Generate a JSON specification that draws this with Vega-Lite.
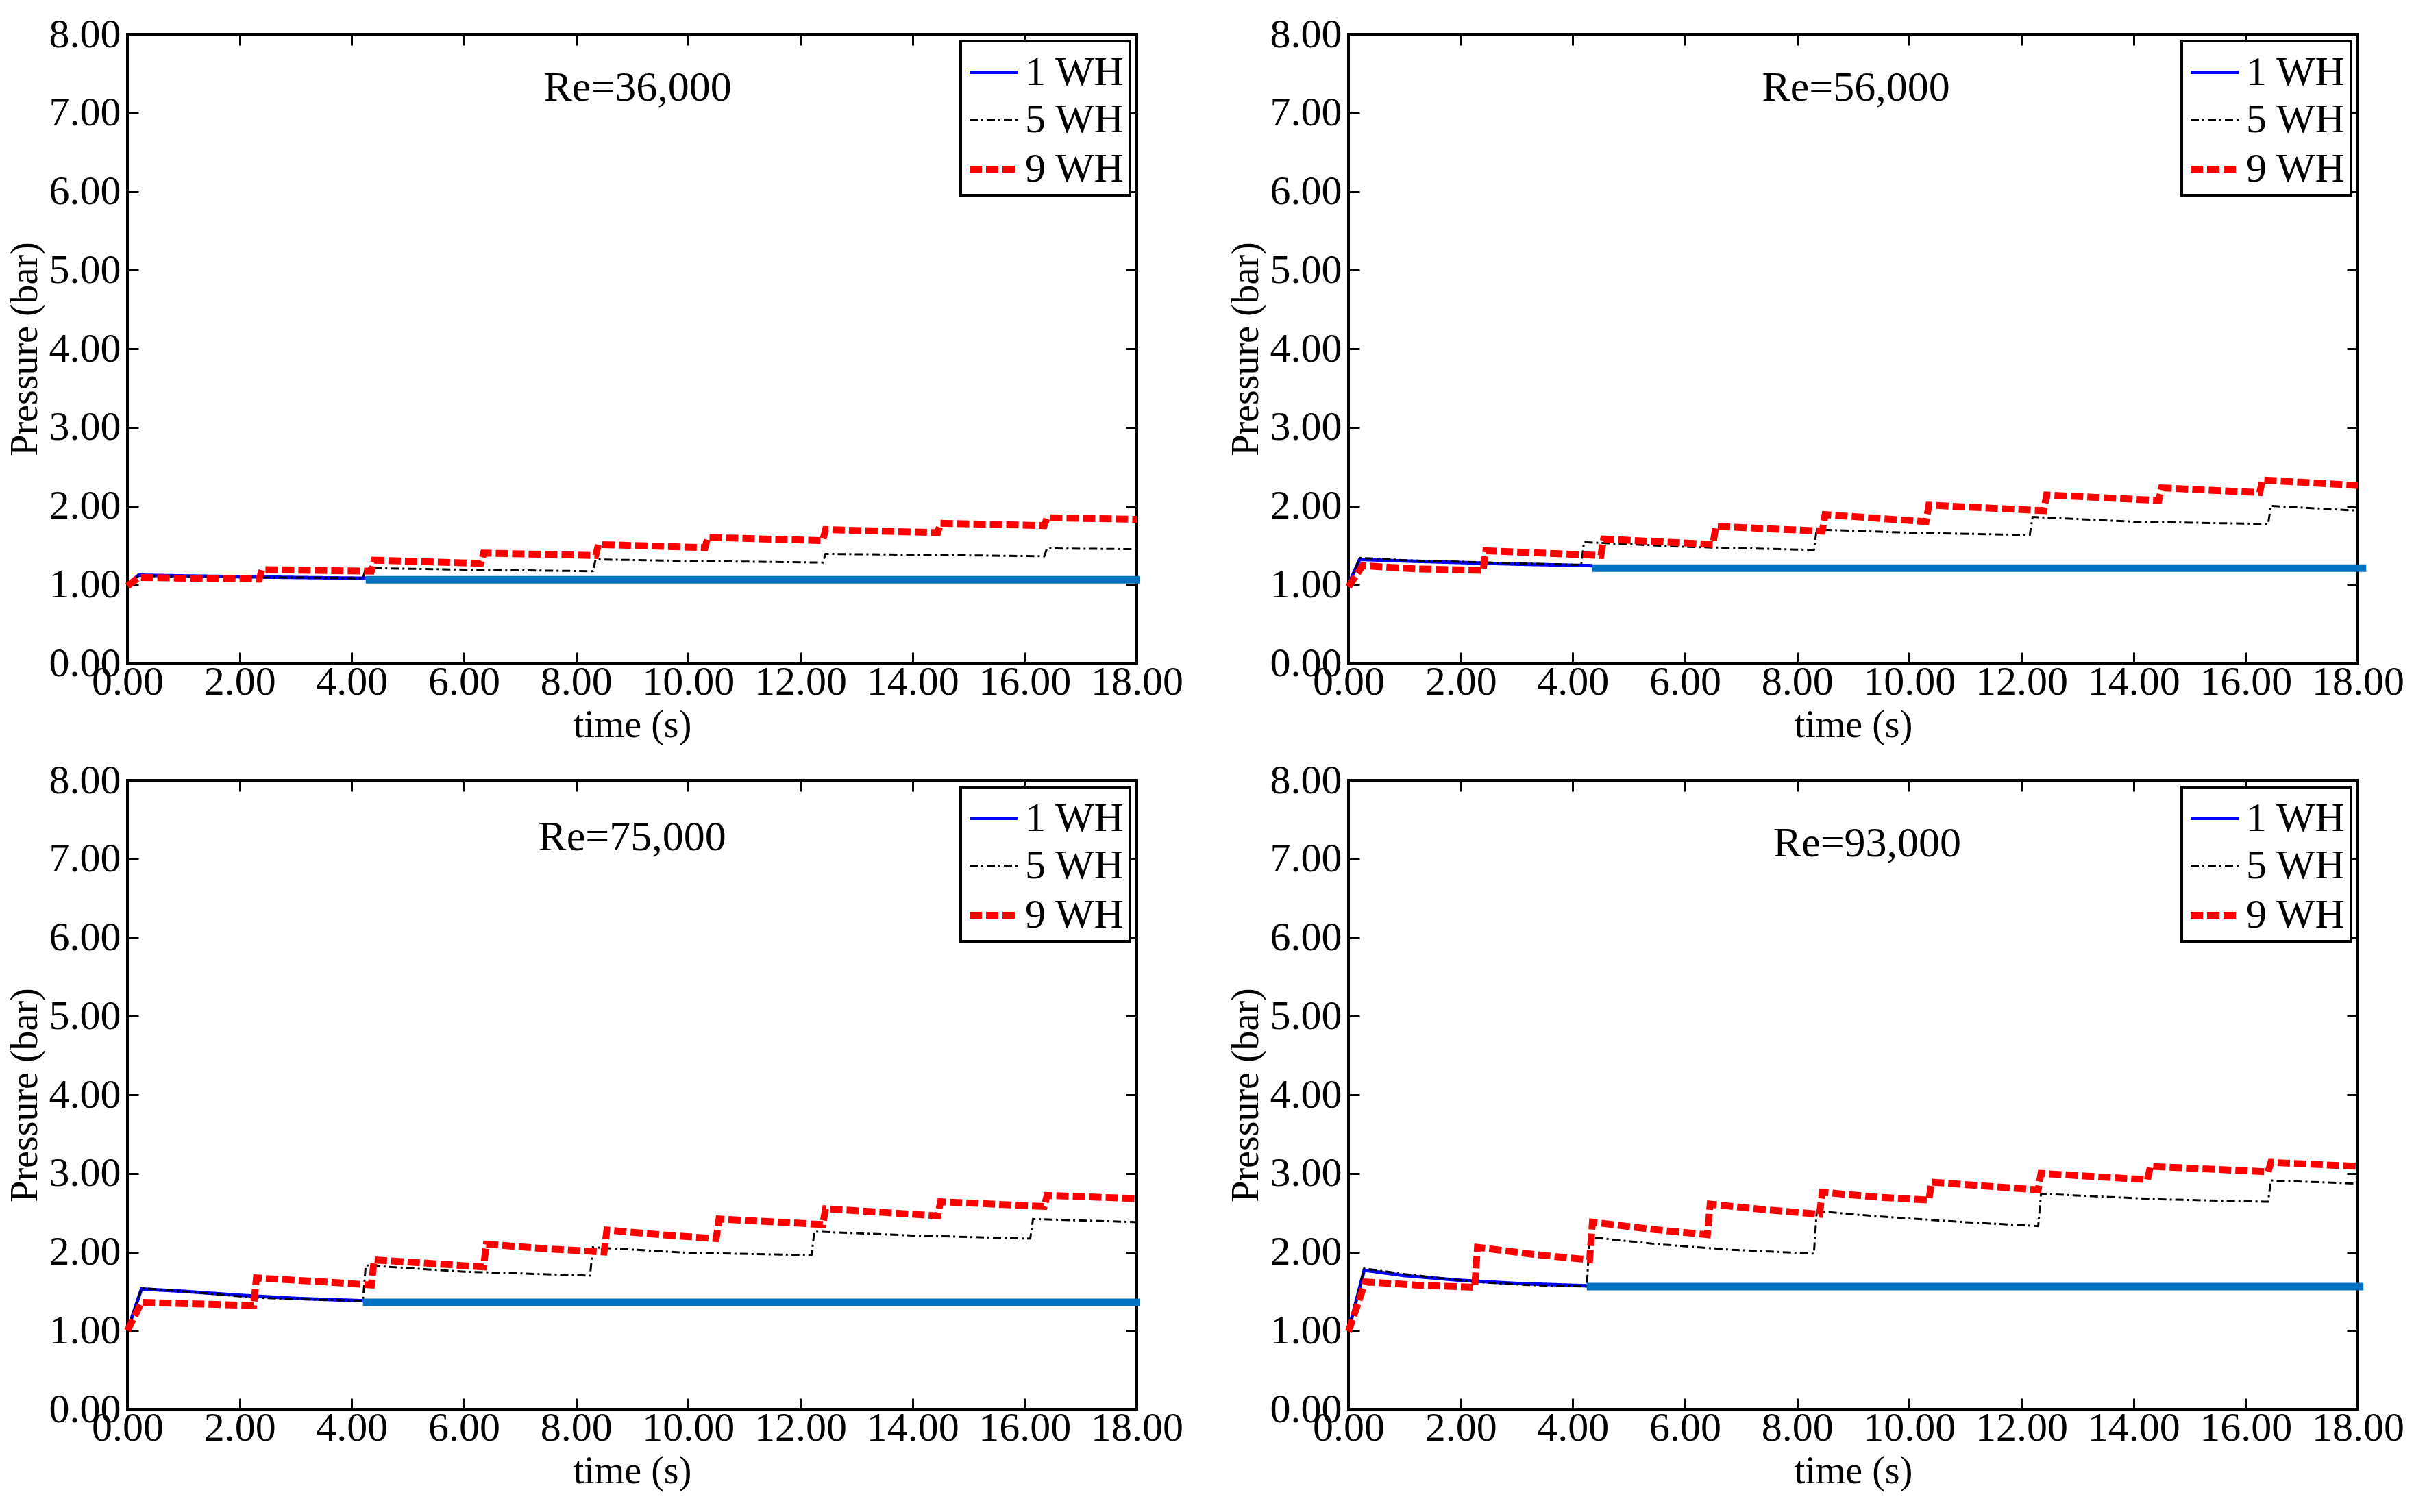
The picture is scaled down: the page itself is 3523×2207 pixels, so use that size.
{
  "$schema": "https://vega.github.io/schema/vega-lite/v6.json",
  "padding": {"left": 6, "top": 18, "right": 0, "bottom": 0},
  "background": "white",
  "datasets": {
    "pressure": [
      {"panel": "Re=36,000", "series": "1 WH", "t": 0, "p": 1.0},
      {"panel": "Re=36,000", "series": "1 WH", "t": 0.2, "p": 1.12},
      {"panel": "Re=36,000", "series": "1 WH", "t": 1, "p": 1.11},
      {"panel": "Re=36,000", "series": "1 WH", "t": 2, "p": 1.1},
      {"panel": "Re=36,000", "series": "1 WH", "t": 3, "p": 1.09},
      {"panel": "Re=36,000", "series": "1 WH", "t": 4.25, "p": 1.08},
      {"panel": "Re=36,000", "series": "5 WH", "t": 0, "p": 1.0},
      {"panel": "Re=36,000", "series": "5 WH", "t": 0.2, "p": 1.11},
      {"panel": "Re=36,000", "series": "5 WH", "t": 1, "p": 1.1},
      {"panel": "Re=36,000", "series": "5 WH", "t": 2, "p": 1.09},
      {"panel": "Re=36,000", "series": "5 WH", "t": 3, "p": 1.09},
      {"panel": "Re=36,000", "series": "5 WH", "t": 4.2, "p": 1.08},
      {"panel": "Re=36,000", "series": "5 WH", "t": 4.25, "p": 1.21},
      {"panel": "Re=36,000", "series": "5 WH", "t": 6, "p": 1.19},
      {"panel": "Re=36,000", "series": "5 WH", "t": 8.3, "p": 1.17},
      {"panel": "Re=36,000", "series": "5 WH", "t": 8.35, "p": 1.32},
      {"panel": "Re=36,000", "series": "5 WH", "t": 10, "p": 1.3},
      {"panel": "Re=36,000", "series": "5 WH", "t": 12.4, "p": 1.28},
      {"panel": "Re=36,000", "series": "5 WH", "t": 12.45, "p": 1.39},
      {"panel": "Re=36,000", "series": "5 WH", "t": 14, "p": 1.38},
      {"panel": "Re=36,000", "series": "5 WH", "t": 16.35, "p": 1.36},
      {"panel": "Re=36,000", "series": "5 WH", "t": 16.4, "p": 1.46},
      {"panel": "Re=36,000", "series": "5 WH", "t": 18, "p": 1.45},
      {"panel": "Re=36,000", "series": "9 WH", "t": 0, "p": 0.98},
      {"panel": "Re=36,000", "series": "9 WH", "t": 0.2, "p": 1.09},
      {"panel": "Re=36,000", "series": "9 WH", "t": 1.2, "p": 1.08},
      {"panel": "Re=36,000", "series": "9 WH", "t": 2.35, "p": 1.07},
      {"panel": "Re=36,000", "series": "9 WH", "t": 2.4, "p": 1.19},
      {"panel": "Re=36,000", "series": "9 WH", "t": 4.35, "p": 1.17},
      {"panel": "Re=36,000", "series": "9 WH", "t": 4.4, "p": 1.31},
      {"panel": "Re=36,000", "series": "9 WH", "t": 6.3, "p": 1.27},
      {"panel": "Re=36,000", "series": "9 WH", "t": 6.35, "p": 1.4},
      {"panel": "Re=36,000", "series": "9 WH", "t": 8.35, "p": 1.37},
      {"panel": "Re=36,000", "series": "9 WH", "t": 8.4, "p": 1.51},
      {"panel": "Re=36,000", "series": "9 WH", "t": 10.3, "p": 1.47},
      {"panel": "Re=36,000", "series": "9 WH", "t": 10.35, "p": 1.6},
      {"panel": "Re=36,000", "series": "9 WH", "t": 12.4, "p": 1.56},
      {"panel": "Re=36,000", "series": "9 WH", "t": 12.45, "p": 1.7},
      {"panel": "Re=36,000", "series": "9 WH", "t": 14.45, "p": 1.66},
      {"panel": "Re=36,000", "series": "9 WH", "t": 14.5, "p": 1.78},
      {"panel": "Re=36,000", "series": "9 WH", "t": 16.35, "p": 1.75},
      {"panel": "Re=36,000", "series": "9 WH", "t": 16.4, "p": 1.85},
      {"panel": "Re=36,000", "series": "9 WH", "t": 18, "p": 1.83},

      {"panel": "Re=56,000", "series": "1 WH", "t": 0, "p": 1.0},
      {"panel": "Re=56,000", "series": "1 WH", "t": 0.2, "p": 1.32},
      {"panel": "Re=56,000", "series": "1 WH", "t": 1, "p": 1.3},
      {"panel": "Re=56,000", "series": "1 WH", "t": 2, "p": 1.28},
      {"panel": "Re=56,000", "series": "1 WH", "t": 3, "p": 1.26},
      {"panel": "Re=56,000", "series": "1 WH", "t": 4.35, "p": 1.24},
      {"panel": "Re=56,000", "series": "5 WH", "t": 0, "p": 1.0},
      {"panel": "Re=56,000", "series": "5 WH", "t": 0.2, "p": 1.34},
      {"panel": "Re=56,000", "series": "5 WH", "t": 1, "p": 1.31},
      {"panel": "Re=56,000", "series": "5 WH", "t": 2, "p": 1.29},
      {"panel": "Re=56,000", "series": "5 WH", "t": 3, "p": 1.27},
      {"panel": "Re=56,000", "series": "5 WH", "t": 4.15, "p": 1.25},
      {"panel": "Re=56,000", "series": "5 WH", "t": 4.2, "p": 1.54},
      {"panel": "Re=56,000", "series": "5 WH", "t": 6, "p": 1.48},
      {"panel": "Re=56,000", "series": "5 WH", "t": 8.3, "p": 1.44},
      {"panel": "Re=56,000", "series": "5 WH", "t": 8.35, "p": 1.7},
      {"panel": "Re=56,000", "series": "5 WH", "t": 10, "p": 1.66},
      {"panel": "Re=56,000", "series": "5 WH", "t": 12.15, "p": 1.63},
      {"panel": "Re=56,000", "series": "5 WH", "t": 12.2, "p": 1.86},
      {"panel": "Re=56,000", "series": "5 WH", "t": 14, "p": 1.8},
      {"panel": "Re=56,000", "series": "5 WH", "t": 16.4, "p": 1.77},
      {"panel": "Re=56,000", "series": "5 WH", "t": 16.45, "p": 2.0},
      {"panel": "Re=56,000", "series": "5 WH", "t": 18, "p": 1.94},
      {"panel": "Re=56,000", "series": "9 WH", "t": 0, "p": 0.97},
      {"panel": "Re=56,000", "series": "9 WH", "t": 0.25, "p": 1.24},
      {"panel": "Re=56,000", "series": "9 WH", "t": 1.2, "p": 1.2},
      {"panel": "Re=56,000", "series": "9 WH", "t": 2.4, "p": 1.18},
      {"panel": "Re=56,000", "series": "9 WH", "t": 2.45, "p": 1.43},
      {"panel": "Re=56,000", "series": "9 WH", "t": 4.5, "p": 1.37},
      {"panel": "Re=56,000", "series": "9 WH", "t": 4.55, "p": 1.58},
      {"panel": "Re=56,000", "series": "9 WH", "t": 6.5, "p": 1.51},
      {"panel": "Re=56,000", "series": "9 WH", "t": 6.55, "p": 1.74},
      {"panel": "Re=56,000", "series": "9 WH", "t": 8.45, "p": 1.68},
      {"panel": "Re=56,000", "series": "9 WH", "t": 8.5, "p": 1.89},
      {"panel": "Re=56,000", "series": "9 WH", "t": 10.3, "p": 1.8},
      {"panel": "Re=56,000", "series": "9 WH", "t": 10.35, "p": 2.01},
      {"panel": "Re=56,000", "series": "9 WH", "t": 12.4, "p": 1.94},
      {"panel": "Re=56,000", "series": "9 WH", "t": 12.45, "p": 2.14},
      {"panel": "Re=56,000", "series": "9 WH", "t": 14.45, "p": 2.07},
      {"panel": "Re=56,000", "series": "9 WH", "t": 14.5, "p": 2.23},
      {"panel": "Re=56,000", "series": "9 WH", "t": 16.25, "p": 2.17},
      {"panel": "Re=56,000", "series": "9 WH", "t": 16.3, "p": 2.33},
      {"panel": "Re=56,000", "series": "9 WH", "t": 18, "p": 2.26},

      {"panel": "Re=75,000", "series": "1 WH", "t": 0, "p": 1.0},
      {"panel": "Re=75,000", "series": "1 WH", "t": 0.25, "p": 1.53},
      {"panel": "Re=75,000", "series": "1 WH", "t": 1, "p": 1.5},
      {"panel": "Re=75,000", "series": "1 WH", "t": 2, "p": 1.45},
      {"panel": "Re=75,000", "series": "1 WH", "t": 3, "p": 1.41},
      {"panel": "Re=75,000", "series": "1 WH", "t": 4.2, "p": 1.38},
      {"panel": "Re=75,000", "series": "5 WH", "t": 0, "p": 1.0},
      {"panel": "Re=75,000", "series": "5 WH", "t": 0.25, "p": 1.54},
      {"panel": "Re=75,000", "series": "5 WH", "t": 1, "p": 1.5},
      {"panel": "Re=75,000", "series": "5 WH", "t": 2.25, "p": 1.42},
      {"panel": "Re=75,000", "series": "5 WH", "t": 3, "p": 1.4},
      {"panel": "Re=75,000", "series": "5 WH", "t": 4.2, "p": 1.38},
      {"panel": "Re=75,000", "series": "5 WH", "t": 4.25, "p": 1.83},
      {"panel": "Re=75,000", "series": "5 WH", "t": 6, "p": 1.75},
      {"panel": "Re=75,000", "series": "5 WH", "t": 8.25, "p": 1.7},
      {"panel": "Re=75,000", "series": "5 WH", "t": 8.3, "p": 2.06},
      {"panel": "Re=75,000", "series": "5 WH", "t": 10, "p": 1.99},
      {"panel": "Re=75,000", "series": "5 WH", "t": 12.2, "p": 1.96},
      {"panel": "Re=75,000", "series": "5 WH", "t": 12.25, "p": 2.26},
      {"panel": "Re=75,000", "series": "5 WH", "t": 14, "p": 2.21},
      {"panel": "Re=75,000", "series": "5 WH", "t": 16.1, "p": 2.17},
      {"panel": "Re=75,000", "series": "5 WH", "t": 16.15, "p": 2.42},
      {"panel": "Re=75,000", "series": "5 WH", "t": 18, "p": 2.38},
      {"panel": "Re=75,000", "series": "9 WH", "t": 0, "p": 1.0},
      {"panel": "Re=75,000", "series": "9 WH", "t": 0.25, "p": 1.36},
      {"panel": "Re=75,000", "series": "9 WH", "t": 1.2, "p": 1.34},
      {"panel": "Re=75,000", "series": "9 WH", "t": 2.25, "p": 1.32},
      {"panel": "Re=75,000", "series": "9 WH", "t": 2.3, "p": 1.67},
      {"panel": "Re=75,000", "series": "9 WH", "t": 3.5, "p": 1.62},
      {"panel": "Re=75,000", "series": "9 WH", "t": 4.35, "p": 1.58},
      {"panel": "Re=75,000", "series": "9 WH", "t": 4.4, "p": 1.9},
      {"panel": "Re=75,000", "series": "9 WH", "t": 5.5, "p": 1.85},
      {"panel": "Re=75,000", "series": "9 WH", "t": 6.35, "p": 1.81},
      {"panel": "Re=75,000", "series": "9 WH", "t": 6.4, "p": 2.1},
      {"panel": "Re=75,000", "series": "9 WH", "t": 7.5, "p": 2.04},
      {"panel": "Re=75,000", "series": "9 WH", "t": 8.5, "p": 2.0},
      {"panel": "Re=75,000", "series": "9 WH", "t": 8.55, "p": 2.28},
      {"panel": "Re=75,000", "series": "9 WH", "t": 9.5, "p": 2.22},
      {"panel": "Re=75,000", "series": "9 WH", "t": 10.5, "p": 2.17},
      {"panel": "Re=75,000", "series": "9 WH", "t": 10.55, "p": 2.42},
      {"panel": "Re=75,000", "series": "9 WH", "t": 12.4, "p": 2.35},
      {"panel": "Re=75,000", "series": "9 WH", "t": 12.45, "p": 2.55},
      {"panel": "Re=75,000", "series": "9 WH", "t": 14.45, "p": 2.46},
      {"panel": "Re=75,000", "series": "9 WH", "t": 14.5, "p": 2.64},
      {"panel": "Re=75,000", "series": "9 WH", "t": 16.35, "p": 2.58},
      {"panel": "Re=75,000", "series": "9 WH", "t": 16.4, "p": 2.72},
      {"panel": "Re=75,000", "series": "9 WH", "t": 18, "p": 2.68},

      {"panel": "Re=93,000", "series": "1 WH", "t": 0, "p": 1.0},
      {"panel": "Re=93,000", "series": "1 WH", "t": 0.28, "p": 1.77},
      {"panel": "Re=93,000", "series": "1 WH", "t": 1, "p": 1.7},
      {"panel": "Re=93,000", "series": "1 WH", "t": 2, "p": 1.64},
      {"panel": "Re=93,000", "series": "1 WH", "t": 3, "p": 1.6},
      {"panel": "Re=93,000", "series": "1 WH", "t": 4.25, "p": 1.57},
      {"panel": "Re=93,000", "series": "5 WH", "t": 0, "p": 1.0},
      {"panel": "Re=93,000", "series": "5 WH", "t": 0.28, "p": 1.79},
      {"panel": "Re=93,000", "series": "5 WH", "t": 1, "p": 1.72},
      {"panel": "Re=93,000", "series": "5 WH", "t": 2.25, "p": 1.62},
      {"panel": "Re=93,000", "series": "5 WH", "t": 3.2, "p": 1.58},
      {"panel": "Re=93,000", "series": "5 WH", "t": 4.25, "p": 1.56},
      {"panel": "Re=93,000", "series": "5 WH", "t": 4.3, "p": 2.19},
      {"panel": "Re=93,000", "series": "5 WH", "t": 5.5, "p": 2.1},
      {"panel": "Re=93,000", "series": "5 WH", "t": 6.8, "p": 2.03},
      {"panel": "Re=93,000", "series": "5 WH", "t": 8.3, "p": 1.98},
      {"panel": "Re=93,000", "series": "5 WH", "t": 8.35, "p": 2.52},
      {"panel": "Re=93,000", "series": "5 WH", "t": 9.5, "p": 2.45},
      {"panel": "Re=93,000", "series": "5 WH", "t": 11, "p": 2.38},
      {"panel": "Re=93,000", "series": "5 WH", "t": 12.3, "p": 2.33},
      {"panel": "Re=93,000", "series": "5 WH", "t": 12.35, "p": 2.74},
      {"panel": "Re=93,000", "series": "5 WH", "t": 14.5, "p": 2.67},
      {"panel": "Re=93,000", "series": "5 WH", "t": 16.4, "p": 2.64},
      {"panel": "Re=93,000", "series": "5 WH", "t": 16.45, "p": 2.91},
      {"panel": "Re=93,000", "series": "5 WH", "t": 18, "p": 2.87},
      {"panel": "Re=93,000", "series": "9 WH", "t": 0, "p": 0.99},
      {"panel": "Re=93,000", "series": "9 WH", "t": 0.3, "p": 1.62},
      {"panel": "Re=93,000", "series": "9 WH", "t": 1.2, "p": 1.58},
      {"panel": "Re=93,000", "series": "9 WH", "t": 2.25, "p": 1.55},
      {"panel": "Re=93,000", "series": "9 WH", "t": 2.3, "p": 2.06},
      {"panel": "Re=93,000", "series": "9 WH", "t": 3.3, "p": 1.97},
      {"panel": "Re=93,000", "series": "9 WH", "t": 4.3, "p": 1.9},
      {"panel": "Re=93,000", "series": "9 WH", "t": 4.35, "p": 2.38},
      {"panel": "Re=93,000", "series": "9 WH", "t": 5.4, "p": 2.29},
      {"panel": "Re=93,000", "series": "9 WH", "t": 6.4, "p": 2.22},
      {"panel": "Re=93,000", "series": "9 WH", "t": 6.45, "p": 2.61},
      {"panel": "Re=93,000", "series": "9 WH", "t": 7.4, "p": 2.54},
      {"panel": "Re=93,000", "series": "9 WH", "t": 8.4, "p": 2.48},
      {"panel": "Re=93,000", "series": "9 WH", "t": 8.45, "p": 2.76},
      {"panel": "Re=93,000", "series": "9 WH", "t": 9.4, "p": 2.7},
      {"panel": "Re=93,000", "series": "9 WH", "t": 10.35, "p": 2.66},
      {"panel": "Re=93,000", "series": "9 WH", "t": 10.4, "p": 2.89},
      {"panel": "Re=93,000", "series": "9 WH", "t": 12.3, "p": 2.79},
      {"panel": "Re=93,000", "series": "9 WH", "t": 12.35, "p": 3.0},
      {"panel": "Re=93,000", "series": "9 WH", "t": 14.25, "p": 2.92},
      {"panel": "Re=93,000", "series": "9 WH", "t": 14.3, "p": 3.09},
      {"panel": "Re=93,000", "series": "9 WH", "t": 16.4, "p": 3.02},
      {"panel": "Re=93,000", "series": "9 WH", "t": 16.45, "p": 3.14},
      {"panel": "Re=93,000", "series": "9 WH", "t": 18, "p": 3.09}
    ],
    "steady": [
      {"panel": "Re=36,000", "t": 4.25, "p": 1.06},
      {"panel": "Re=36,000", "t": 18.05, "p": 1.06},
      {"panel": "Re=56,000", "t": 4.35, "p": 1.21},
      {"panel": "Re=56,000", "t": 18.15, "p": 1.21},
      {"panel": "Re=75,000", "t": 4.2, "p": 1.36},
      {"panel": "Re=75,000", "t": 18.05, "p": 1.36},
      {"panel": "Re=93,000", "t": 4.25, "p": 1.56},
      {"panel": "Re=93,000", "t": 18.1, "p": 1.56}
    ],
    "notes": [
      {"panel": "Re=36,000", "t": 9.1, "p": 7.32},
      {"panel": "Re=56,000", "t": 9.05, "p": 7.32},
      {"panel": "Re=75,000", "t": 9.0, "p": 7.28},
      {"panel": "Re=93,000", "t": 9.25, "p": 7.2}
    ]
  },
  "columns": 2,
  "spacing": {"row": 19, "column": 59},
  "resolve": {
    "scale": {"color": "independent", "strokeDash": "independent", "strokeWidth": "independent"}
  },
  "concat": [
    {
      "width": 1473,
      "height": 918,
      "layer": [
        {
          "data": {"name": "pressure"},
          "transform": [{"filter": "datum.panel == 'Re=36,000'"}],
          "mark": {"type": "line"},
          "encoding": {
            "x": {"field": "t", "type": "quantitative", "title": "time (s)", "scale": {"domain": [0, 18], "nice": false}, "axis": {"values": [0, 2, 4, 6, 8, 10, 12, 14, 16, 18]}},
            "y": {"field": "p", "type": "quantitative", "title": "Pressure (bar)", "scale": {"domain": [0, 8], "nice": false}, "axis": {"values": [0, 1, 2, 3, 4, 5, 6, 7, 8]}},
            "color": {"field": "series", "type": "nominal", "scale": {"domain": ["1 WH", "5 WH", "9 WH"], "range": ["#0000FF", "#000000", "#FF0000"]}, "legend": {"title": null}},
            "strokeDash": {"field": "series", "type": "nominal", "scale": {"domain": ["1 WH", "5 WH", "9 WH"], "range": [[1, 0], [12, 5, 3, 5], [18, 6]]}, "legend": {"title": null}},
            "strokeWidth": {"field": "series", "type": "nominal", "scale": {"type": "ordinal", "domain": ["1 WH", "5 WH", "9 WH"], "range": [5, 3, 10]}, "legend": null}
          }
        },
        {
          "data": {"name": "steady"},
          "transform": [{"filter": "datum.panel == 'Re=36,000'"}],
          "mark": {"type": "line", "color": "#0070C0", "strokeWidth": 11},
          "encoding": {
            "x": {"field": "t", "type": "quantitative", "axis": null},
            "y": {"field": "p", "type": "quantitative", "axis": null}
          }
        },
        {
          "data": {"name": "notes"},
          "transform": [{"filter": "datum.panel == 'Re=36,000'"}],
          "mark": {"type": "text", "fontSize": 62, "color": "black"},
          "encoding": {
            "x": {"field": "t", "type": "quantitative", "axis": {"orient": "top", "labels": false, "title": null, "values": [0, 2, 4, 6, 8, 10, 12, 14, 16, 18]}},
            "y": {"field": "p", "type": "quantitative", "axis": {"orient": "right", "labels": false, "title": null, "values": [0, 1, 2, 3, 4, 5, 6, 7, 8]}},
            "text": {"field": "panel"}
          }
        }
      ],
      "resolve": {"axis": {"x": "independent", "y": "independent"}}
    },
    {
      "width": 1473,
      "height": 918,
      "layer": [
        {
          "data": {"name": "pressure"},
          "transform": [{"filter": "datum.panel == 'Re=56,000'"}],
          "mark": {"type": "line"},
          "encoding": {
            "x": {"field": "t", "type": "quantitative", "title": "time (s)", "scale": {"domain": [0, 18], "nice": false}, "axis": {"values": [0, 2, 4, 6, 8, 10, 12, 14, 16, 18]}},
            "y": {"field": "p", "type": "quantitative", "title": "Pressure (bar)", "scale": {"domain": [0, 8], "nice": false}, "axis": {"values": [0, 1, 2, 3, 4, 5, 6, 7, 8]}},
            "color": {"field": "series", "type": "nominal", "scale": {"domain": ["1 WH", "5 WH", "9 WH"], "range": ["#0000FF", "#000000", "#FF0000"]}, "legend": {"title": null}},
            "strokeDash": {"field": "series", "type": "nominal", "scale": {"domain": ["1 WH", "5 WH", "9 WH"], "range": [[1, 0], [12, 5, 3, 5], [18, 6]]}, "legend": {"title": null}},
            "strokeWidth": {"field": "series", "type": "nominal", "scale": {"type": "ordinal", "domain": ["1 WH", "5 WH", "9 WH"], "range": [5, 3, 10]}, "legend": null}
          }
        },
        {
          "data": {"name": "steady"},
          "transform": [{"filter": "datum.panel == 'Re=56,000'"}],
          "mark": {"type": "line", "color": "#0070C0", "strokeWidth": 11},
          "encoding": {
            "x": {"field": "t", "type": "quantitative", "axis": null},
            "y": {"field": "p", "type": "quantitative", "axis": null}
          }
        },
        {
          "data": {"name": "notes"},
          "transform": [{"filter": "datum.panel == 'Re=56,000'"}],
          "mark": {"type": "text", "fontSize": 62, "color": "black"},
          "encoding": {
            "x": {"field": "t", "type": "quantitative", "axis": {"orient": "top", "labels": false, "title": null, "values": [0, 2, 4, 6, 8, 10, 12, 14, 16, 18]}},
            "y": {"field": "p", "type": "quantitative", "axis": {"orient": "right", "labels": false, "title": null, "values": [0, 1, 2, 3, 4, 5, 6, 7, 8]}},
            "text": {"field": "panel"}
          }
        }
      ],
      "resolve": {"axis": {"x": "independent", "y": "independent"}}
    },
    {
      "width": 1473,
      "height": 918,
      "layer": [
        {
          "data": {"name": "pressure"},
          "transform": [{"filter": "datum.panel == 'Re=75,000'"}],
          "mark": {"type": "line"},
          "encoding": {
            "x": {"field": "t", "type": "quantitative", "title": "time (s)", "scale": {"domain": [0, 18], "nice": false}, "axis": {"values": [0, 2, 4, 6, 8, 10, 12, 14, 16, 18]}},
            "y": {"field": "p", "type": "quantitative", "title": "Pressure (bar)", "scale": {"domain": [0, 8], "nice": false}, "axis": {"values": [0, 1, 2, 3, 4, 5, 6, 7, 8]}},
            "color": {"field": "series", "type": "nominal", "scale": {"domain": ["1 WH", "5 WH", "9 WH"], "range": ["#0000FF", "#000000", "#FF0000"]}, "legend": {"title": null}},
            "strokeDash": {"field": "series", "type": "nominal", "scale": {"domain": ["1 WH", "5 WH", "9 WH"], "range": [[1, 0], [12, 5, 3, 5], [18, 6]]}, "legend": {"title": null}},
            "strokeWidth": {"field": "series", "type": "nominal", "scale": {"type": "ordinal", "domain": ["1 WH", "5 WH", "9 WH"], "range": [5, 3, 10]}, "legend": null}
          }
        },
        {
          "data": {"name": "steady"},
          "transform": [{"filter": "datum.panel == 'Re=75,000'"}],
          "mark": {"type": "line", "color": "#0070C0", "strokeWidth": 11},
          "encoding": {
            "x": {"field": "t", "type": "quantitative", "axis": null},
            "y": {"field": "p", "type": "quantitative", "axis": null}
          }
        },
        {
          "data": {"name": "notes"},
          "transform": [{"filter": "datum.panel == 'Re=75,000'"}],
          "mark": {"type": "text", "fontSize": 62, "color": "black"},
          "encoding": {
            "x": {"field": "t", "type": "quantitative", "axis": {"orient": "top", "labels": false, "title": null, "values": [0, 2, 4, 6, 8, 10, 12, 14, 16, 18]}},
            "y": {"field": "p", "type": "quantitative", "axis": {"orient": "right", "labels": false, "title": null, "values": [0, 1, 2, 3, 4, 5, 6, 7, 8]}},
            "text": {"field": "panel"}
          }
        }
      ],
      "resolve": {"axis": {"x": "independent", "y": "independent"}}
    },
    {
      "width": 1473,
      "height": 918,
      "layer": [
        {
          "data": {"name": "pressure"},
          "transform": [{"filter": "datum.panel == 'Re=93,000'"}],
          "mark": {"type": "line"},
          "encoding": {
            "x": {"field": "t", "type": "quantitative", "title": "time (s)", "scale": {"domain": [0, 18], "nice": false}, "axis": {"values": [0, 2, 4, 6, 8, 10, 12, 14, 16, 18]}},
            "y": {"field": "p", "type": "quantitative", "title": "Pressure (bar)", "scale": {"domain": [0, 8], "nice": false}, "axis": {"values": [0, 1, 2, 3, 4, 5, 6, 7, 8]}},
            "color": {"field": "series", "type": "nominal", "scale": {"domain": ["1 WH", "5 WH", "9 WH"], "range": ["#0000FF", "#000000", "#FF0000"]}, "legend": {"title": null}},
            "strokeDash": {"field": "series", "type": "nominal", "scale": {"domain": ["1 WH", "5 WH", "9 WH"], "range": [[1, 0], [12, 5, 3, 5], [18, 6]]}, "legend": {"title": null}},
            "strokeWidth": {"field": "series", "type": "nominal", "scale": {"type": "ordinal", "domain": ["1 WH", "5 WH", "9 WH"], "range": [5, 3, 10]}, "legend": null}
          }
        },
        {
          "data": {"name": "steady"},
          "transform": [{"filter": "datum.panel == 'Re=93,000'"}],
          "mark": {"type": "line", "color": "#0070C0", "strokeWidth": 11},
          "encoding": {
            "x": {"field": "t", "type": "quantitative", "axis": null},
            "y": {"field": "p", "type": "quantitative", "axis": null}
          }
        },
        {
          "data": {"name": "notes"},
          "transform": [{"filter": "datum.panel == 'Re=93,000'"}],
          "mark": {"type": "text", "fontSize": 62, "color": "black"},
          "encoding": {
            "x": {"field": "t", "type": "quantitative", "axis": {"orient": "top", "labels": false, "title": null, "values": [0, 2, 4, 6, 8, 10, 12, 14, 16, 18]}},
            "y": {"field": "p", "type": "quantitative", "axis": {"orient": "right", "labels": false, "title": null, "values": [0, 1, 2, 3, 4, 5, 6, 7, 8]}},
            "text": {"field": "panel"}
          }
        }
      ],
      "resolve": {"axis": {"x": "independent", "y": "independent"}}
    }
  ],
  "config": {
    "font": "Liberation Serif",
    "view": {"stroke": "black", "strokeWidth": 4},
    "axis": {
      "labelFont": "Liberation Serif",
      "labelFontSize": 60,
      "labelColor": "black",
      "labelFlush": false,
      "labelOverlap": false,
      "format": ".2f",
      "titleFont": "Liberation Serif",
      "titleFontSize": 56,
      "titleFontWeight": "normal",
      "titleColor": "black",
      "titlePadding": 6,
      "grid": false,
      "domain": false,
      "ticks": true,
      "tickColor": "black",
      "tickWidth": 3,
      "tickSize": -16
    },
    "axisX": {"labelPadding": 14},
    "axisY": {"labelPadding": 26},
    "legend": {
      "orient": "top-right",
      "offset": 10,
      "padding": 8,
      "fillColor": "white",
      "strokeColor": "black",
      "strokeWidth": 4,
      "symbolType": "stroke",
      "symbolSize": 4900,
      "symbolStrokeWidth": 6,
      "labelFont": "Liberation Serif",
      "labelFontSize": 60,
      "labelColor": "black",
      "labelLimit": 0,
      "labelOffset": 6,
      "rowPadding": 2
    }
  }
}
